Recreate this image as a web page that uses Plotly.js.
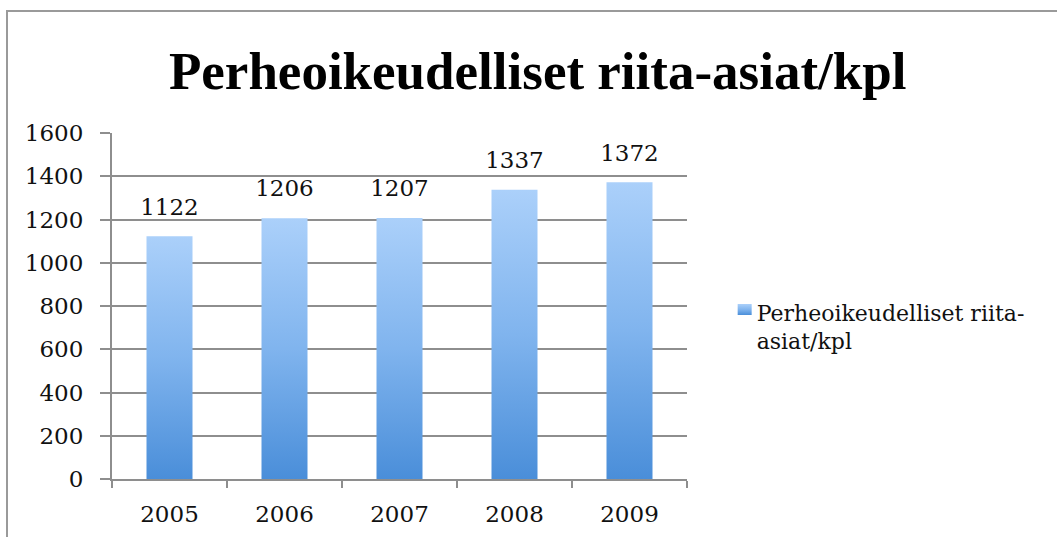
<!DOCTYPE html>
<html>
<head>
<meta charset="utf-8">
<script src="https://cdn.plot.ly/plotly-3.0.1.min.js"></script>
<style>
  html, body { margin: 0; padding: 0; background: #ffffff; width: 1057px; height: 537px; overflow: hidden; }
  #chart { position: absolute; left: 6px; top: 10px; width: 1051px; height: 527px;
           border-top: 2px solid #9a9a9a; border-left: 2px solid #9a9a9a; box-sizing: border-box; }
</style>
</head>
<body>
<div id="chart"></div>
<script>
const years = ['2005', '2006', '2007', '2008', '2009'];
const cases = [1122, 1206, 1207, 1337, 1372];
const seriesName = 'Perheoikeudelliset riita-<br>asiat/kpl';
const chartTitle = 'Perheoikeudelliset riita-asiat/kpl';
const yTicks = [0, 200, 400, 600, 800, 1000, 1200, 1400, 1600];

const serif = 'DejaVu Serif, Liberation Serif, serif';
const grid = '#8e8e8e';

const bars = {
  type: 'bar',
  x: years,
  y: cases,
  name: seriesName,
  width: 0.4,
  marker: { color: '#7ab0ec', line: { width: 0 } },
  showlegend: true,
  hoverinfo: 'x+y'
};

const labels = {
  type: 'scatter',
  mode: 'markers+text',
  x: years,
  y: cases,
  text: cases.map(String),
  textposition: 'top center',
  textfont: { family: serif, size: 23, color: '#111111' },
  marker: { size: 24, opacity: 0, color: '#ffffff' },
  showlegend: false,
  hoverinfo: 'skip',
  cliponaxis: false
};

const layout = {
  width: 1049, height: 525,
  margin: { l: 104, r: 370, t: 121, b: 58, pad: 0 },
  paper_bgcolor: '#ffffff', plot_bgcolor: '#ffffff',
  title: {
    text: '<b>' + chartTitle + '</b>',
    font: { family: 'Liberation Serif, serif', size: 53, color: '#000000' },
    x: 0.505, xref: 'container', xanchor: 'center',
    y: 1 - 58 / 525, yref: 'container', yanchor: 'middle'
  },
  xaxis: {
    type: 'category', range: [-0.5, 4.5],
    showline: true, linecolor: grid, linewidth: 2,
    ticks: 'outside', tickson: 'boundaries', ticklen: 7, tickwidth: 2, tickcolor: grid,
    ticklabelstandoff: 13,
    showgrid: false, zeroline: false,
    tickfont: { family: serif, size: 23, color: '#111111' }
  },
  yaxis: {
    range: [0, 1600], tickvals: yTicks, ticktext: yTicks.map(String),
    showline: true, linecolor: grid, linewidth: 2,
    ticks: 'outside', ticklen: 10, tickwidth: 2, tickcolor: grid,
    ticklabelstandoff: 12,
    showgrid: true, gridcolor: grid, gridwidth: 2, zeroline: false,
    tickfont: { family: serif, size: 23, color: '#111111' }
  },
  legend: {
    x: 1.0516, xanchor: 'left', y: 0.44, yanchor: 'middle',
    valign: 'top',
    font: { family: serif, size: 22, color: '#111111' },
    bgcolor: 'rgba(0,0,0,0)', borderwidth: 0,
    itemclick: false
  },
  showlegend: true
};

Plotly.newPlot('chart', [bars, labels], layout, { displayModeBar: false, staticPlot: true }).then(gd => {
  const svg = gd.querySelector('svg.main-svg');
  const ns = 'http://www.w3.org/2000/svg';
  let defs = svg.querySelector('defs');
  if (!defs) { defs = document.createElementNS(ns, 'defs'); svg.insertBefore(defs, svg.firstChild); }
  const lg = document.createElementNS(ns, 'linearGradient');
  lg.setAttribute('id', 'barGrad');
  lg.setAttribute('x1', '0'); lg.setAttribute('y1', '0');
  lg.setAttribute('x2', '0'); lg.setAttribute('y2', '1');
  [['0', '#abd0fa'], ['0.5', '#80b4ee'], ['1', '#4a8ed9']].forEach(([o, c]) => {
    const s = document.createElementNS(ns, 'stop');
    s.setAttribute('offset', o); s.setAttribute('stop-color', c);
    lg.appendChild(s);
  });
  defs.appendChild(lg);
  gd.querySelectorAll('.bars path').forEach(p => { p.style.fill = 'url(#barGrad)'; });
  gd.querySelectorAll('.legendpoints path').forEach(p => {
    p.setAttribute('d', 'M1,-8H15V3H1Z');
    p.style.fill = 'url(#barGrad)';
  });
});
</script>
</body>
</html>
